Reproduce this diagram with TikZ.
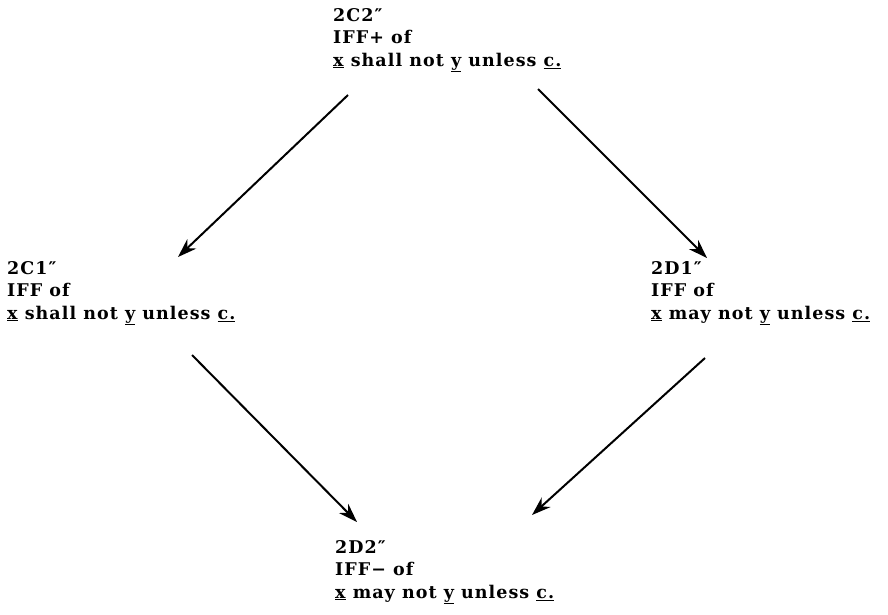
\documentclass[tikz,border=0pt]{standalone}
\usepackage{fontspec}
\setmainfont{DejaVu Serif}[LetterSpace=6]
\usetikzlibrary{arrows.meta}

\newcommand{\ulx}[1]{\underline{#1}}

\tikzset{
  stmt/.style={anchor=north west, inner sep=0pt, align=left,
    font=\fontsize{17.5}{22.5}\selectfont\bfseries},
  arr/.style={line width=2pt, -{Stealth[length=19pt, width=13pt]}}
}

\begin{document}
\begin{tikzpicture}[x=1pt, y=-1pt]
\useasboundingbox (0,0) rectangle (888,614);

%% statements
\node[stmt] (top)    at (333,8)   {2C2″\\IFF+ of\\\ulx{x} shall not \ulx{y} unless \ulx{c.}};
\node[stmt] (left)   at (7,261)   {2C1″\\IFF of\\\ulx{x} shall not \ulx{y} unless \ulx{c.}};
\node[stmt] (right)  at (651,261) {2D1″\\IFF of\\\ulx{x} may not \ulx{y} unless \ulx{c.}};
\node[stmt] (bottom) at (335,540) {2D2″\\IFF− of\\\ulx{x} may not \ulx{y} unless \ulx{c.}};

%% arrows
\draw[arr] ([xshift=15pt,yshift=-87pt]top.north west) -- ([xshift=171pt,yshift=4pt]left.north west);      %% top-left
\draw[arr] ([xshift=205pt,yshift=-81pt]top.north west) -- ([xshift=56pt,yshift=3pt]right.north west);     %% top-right
\draw[arr] ([xshift=185pt,yshift=-94pt]left.north west) -- ([xshift=22pt,yshift=18pt]bottom.north west);  %% left-bottom
\draw[arr] ([xshift=54pt,yshift=-97pt]right.north west) -- ([xshift=197pt,yshift=25pt]bottom.north west); %% right-bottom
\end{tikzpicture}
\end{document}
